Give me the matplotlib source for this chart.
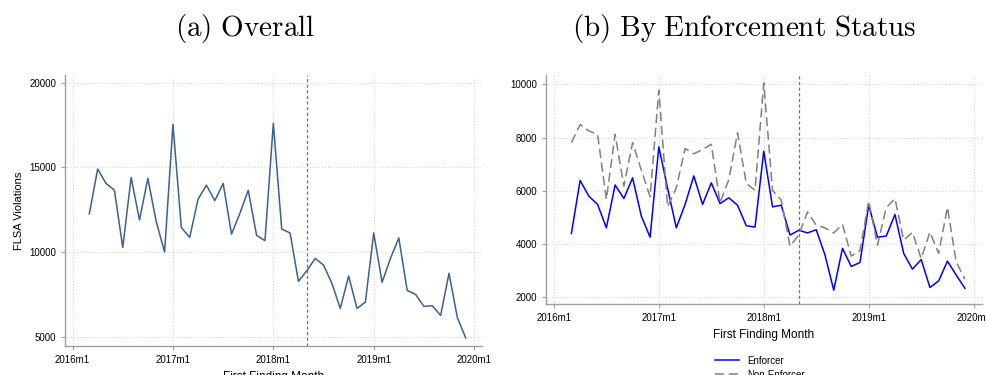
import matplotlib
matplotlib.use("Agg")
import matplotlib.pyplot as plt
import pandas as pd

plt.rcParams['font.family'] = ['Liberation Sans', 'DejaVu Sans']
plt.rcParams['mathtext.fontset'] = 'cm'

# months 2016m3 .. 2019m12
months = [f"{p.year}m{p.month}" for p in pd.period_range('2016-03', '2019-12', freq='M')]

overall = [12250, 14900, 14050, 13650, 10270, 14400, 11890, 14350, 11790, 10000,
           17540, 11450, 10860, 13110, 13950, 13030, 14050, 11060, 12280, 13640,
           10980, 10670, 17600, 11360, 11120, 8270, 8890, 9620, 9230, 8150,
           6670, 8580, 6670, 7040, 11120, 8210, 9620, 10830, 7730, 7500,
           6790, 6830, 6260, 8740, 6120, 4920]

enforcer = [4400, 6390, 5800, 5490, 4610, 6220, 5710, 6490, 5050, 4260,
            7650, 6100, 4610, 5490, 6560, 5490, 6300, 5520, 5740, 5460,
            4690, 4640, 7490, 5400, 5460, 4340, 4520, 4420, 4540, 3590,
            2270, 3840, 3160, 3310, 5460, 4260, 4300, 5110, 3650, 3060,
            3420, 2370, 2620, 3360, 2840, 2340]

non_enforcer = [7810, 8490, 8250, 8120, 5680, 8120, 6180, 7810, 6780, 5780,
                9780, 5400, 6110, 7590, 7390, 7550, 7750, 5550, 6420, 8180,
                6280, 6020, 10050, 6020, 5650, 3920, 4340, 5210, 4710, 4610,
                4420, 4740, 3550, 3750, 5620, 3960, 5360, 5710, 4150, 4440,
                3460, 4450, 3650, 5380, 3340, 2680]

tick_labels = ['2016m1', '2017m1', '2018m1', '2019m1', '2020m1']
cutoff = '2018m5'


def month_index(lbl):
    y, m = lbl.split('m')
    return (int(y) - 2016) * 12 + int(m) - 1


x = [month_index(m) for m in months]
xticks = [month_index(t) for t in tick_labels]

fig = plt.figure(figsize=(9.87, 3.75), dpi=100)
ax1 = fig.add_axes([0.0659, 0.0773, 0.4225, 0.7227])
ax2 = fig.add_axes([0.5532, 0.1893, 0.4417, 0.6107])


def style(ax):
    for s in ['top', 'right']:
        ax.spines[s].set_visible(False)
    for s in ['left', 'bottom']:
        ax.spines[s].set_color('#a0a0a0')
        ax.spines[s].set_linewidth(1.0)
    ax.tick_params(colors='#a0a0a0', labelcolor='black', labelsize=7, length=3, width=0.8)
    ax.grid(True, linestyle=(0, (1, 2)), color='#d0d0d0', linewidth=0.7)
    ax.set_xticks(xticks)
    ax.set_xticklabels(tick_labels)
    ax.set_xlim(-0.9, 48.95)
    ax.axvline(month_index(cutoff), color='#707070', linestyle=(0, (2.5, 2)), linewidth=0.9)


style(ax1)
ax1.plot(x, overall, color='#3a6190', linewidth=1.1)
ax1.set_ylim(4450, 20450)
ax1.set_yticks([5000, 10000, 15000, 20000])
ax1.set_ylabel('FLSA Violations', fontsize=8)
ax1.set_xlabel('First Finding Month', fontsize=8.5)

style(ax2)
ax2.plot(x, enforcer, color='#0000ff', linewidth=1.1, label='Enforcer')
ax2.plot(x, non_enforcer, color='#808080', linewidth=1.1, linestyle=(0, (6, 3)), label='Non-Enforcer')
ax2.set_ylim(1750, 10350)
ax2.set_yticks([2000, 4000, 6000, 8000, 10000])
ax2.set_xlabel('First Finding Month', fontsize=8.5)

fig.legend(loc='upper center', bbox_to_anchor=(0.77, 0.075), frameon=False,
           fontsize=7, ncol=1, handlelength=2.5, labelspacing=0.4)

fig.text(0.248, 0.925, r'$\mathrm{(a)\ Overall}$', ha='center', va='center', fontsize=21)
fig.text(0.754, 0.925, r'$\mathrm{(b)\ By\ Enforcement\ Status}$', ha='center', va='center', fontsize=21)

fig.savefig('out.png', dpi=100)
